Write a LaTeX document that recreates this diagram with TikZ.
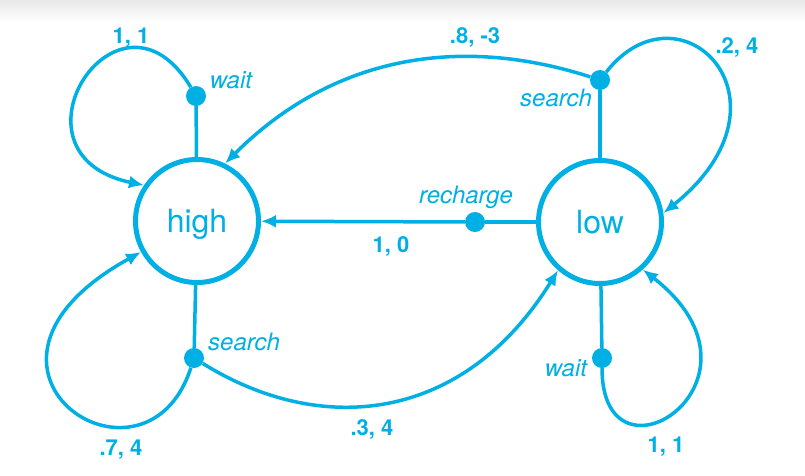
\documentclass[tikz,border=0pt]{standalone}
\usepackage{fontspec}
\setmainfont{TeX Gyre Heros}
\usetikzlibrary{arrows.meta}
\definecolor{mdpblue}{RGB}{0,176,228}

\begin{document}
\begin{tikzpicture}[x=1pt, y=-1pt,
    state/.style={circle, draw=mdpblue, line width=5pt, minimum size=123pt, inner sep=0pt,
        text=mdpblue, text height=23pt, text depth=0pt, font=\fontsize{32}{36}\selectfont},
    act/.style={circle, fill=mdpblue, inner sep=0pt, minimum size=20pt},
    link/.style={draw=mdpblue, line width=3.5pt},
    trans/.style={link, -{Latex[length=15pt,width=13pt]}},
    actname/.style={text=mdpblue, inner sep=0pt, anchor=base, font=\fontsize{24}{28}\selectfont\itshape},
    reward/.style={text=mdpblue, inner sep=0pt, anchor=base, font=\fontsize{22}{26}\selectfont\bfseries}]
    \useasboundingbox (0,0) rectangle (805,475);
    % faint shadow along the top edge
    \shade[top color=black!9, bottom color=white] (0,0) rectangle (805,22);

    % States
    \node (high) at (197,221) [state] {high};
    \node (low) at (600,222) [state] {low};

    % Action dots
    \node (highwait) at (196,96) [act] {};
    \node (highsearch) at (194,358) [act] {};
    \node (lowsearch) at (600,80) [act] {};
    \node (lowwait) at (602,358) [act] {};
    \node (recharge) at (475,222) [act] {};

    % State to action
    \draw[link] (high) -- (highwait);
    \draw[link] (high) -- (highsearch);
    \draw[link] (low) -- (lowsearch);
    \draw[link] (low) -- (lowwait);
    \draw[link] (low) -- (recharge);

    % Action to next state
    \draw[trans] (highwait) .. controls +(-77,-129) and +(-147,-31) .. (high.146);
    \draw[trans] (highsearch) .. controls +(-49,152) and +(-210,116) .. (high.209);
    \draw[trans] (highsearch) .. controls +(127,79) and +(-95,153) .. (low.229);
    \draw[trans] (lowsearch) .. controls +(80,-102) and +(140,-113) .. (low.8);
    \draw[trans] (lowsearch) .. controls +(-143,-46) and +(106,-106) .. (high.64);
    \draw[trans] (lowwait) .. controls +(0,140) and +(142,111) .. (low.312);
    \draw[trans] (recharge) -- (high);

    % Action names
    \node (hwname) at (231,88) [actname] {wait};
    \node (hsname) at (244,350) [actname] {search};
    \node (lsname) at (556,106) [actname] {search};
    \node (lwname) at (566,376) [actname] {wait};
    \node (rcname) at (466,203) [actname] {recharge};

    % Probability, reward
    \node (r1) at (131,43) [reward] {1, 1};
    \node (r2) at (121,455) [reward] {.7, 4};
    \node (r3) at (372,435) [reward] {.3, 4};
    \node (r4) at (737,53) [reward] {.2, 4};
    \node (r5) at (475,43) [reward] {.8, -3};
    \node (r6) at (666,452) [reward] {1, 1};
    \node (r7) at (391,252) [reward] {1, 0};
\end{tikzpicture}
\end{document}
